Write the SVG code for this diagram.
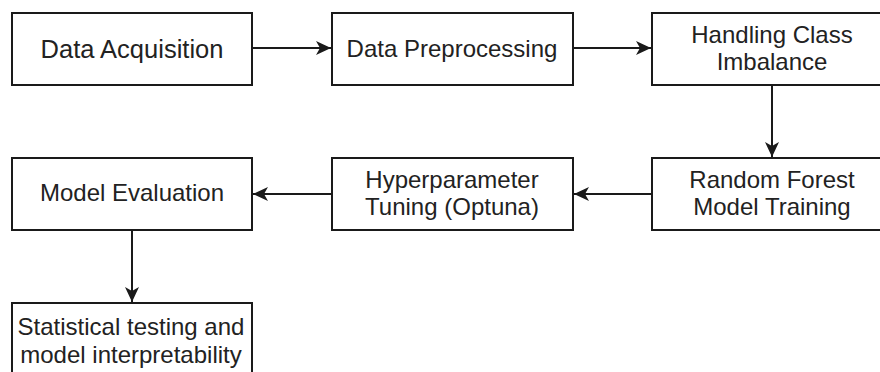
<svg xmlns="http://www.w3.org/2000/svg" width="880" height="372" viewBox="0 0 880 372">
  <style>
    .box { fill: #ffffff; stroke: #1a1a1a; stroke-width: 2; }
    .lbl { font-family: "Liberation Sans", Arial, sans-serif; font-size: 24px; fill: #222222; text-anchor: middle; }
    .big { font-size: 25.5px; }
    .edge { fill: none; stroke: #1a1a1a; stroke-width: 2; marker-end: url(#arrow); }
  </style>
  <defs>
    <marker id="arrow" markerUnits="userSpaceOnUse" markerWidth="17" markerHeight="16" viewBox="0 0 17 16" refX="16" refY="8" orient="auto">
      <path d="M1,1 L16,8 L1,15 L5,8 Z" fill="#1a1a1a"/>
    </marker>
  </defs>
  <rect width="880" height="372" fill="#ffffff"/>

  <g id="edges">
    <path class="edge" d="M252,48 L331,48"/>
    <path class="edge" d="M573,48 L651,48"/>
    <path class="edge" d="M772,85 L772,157"/>
    <path class="edge" d="M652,194 L574,194"/>
    <path class="edge" d="M332,194 L253,194"/>
    <path class="edge" d="M132,230 L132,302"/>
  </g>

  <g id="data-acquisition">
    <rect class="box" x="12" y="13" width="240" height="72"/>
    <text class="lbl big" x="132" y="58">Data Acquisition</text>
  </g>
  <g id="data-preprocessing">
    <rect class="box" x="332" y="13" width="241" height="72"/>
    <text class="lbl" x="452" y="57">Data Preprocessing</text>
  </g>
  <g id="class-imbalance">
    <rect class="box" x="652" y="13" width="240" height="72"/>
    <text class="lbl" x="772" y="42.5">Handling Class</text>
    <text class="lbl" x="772" y="70">Imbalance</text>
  </g>
  <g id="random-forest">
    <rect class="box" x="652" y="158" width="240" height="72"/>
    <text class="lbl" x="772" y="188">Random Forest</text>
    <text class="lbl" x="772" y="215">Model Training</text>
  </g>
  <g id="hyperparameter-tuning">
    <rect class="box" x="332" y="158" width="241" height="72"/>
    <text class="lbl" x="452" y="188">Hyperparameter</text>
    <text class="lbl" x="452" y="215">Tuning (Optuna)</text>
  </g>
  <g id="model-evaluation">
    <rect class="box" x="12" y="158" width="240" height="72"/>
    <text class="lbl" x="132" y="201">Model Evaluation</text>
  </g>
  <g id="statistical-testing">
    <rect class="box" x="12" y="303" width="240" height="72"/>
    <text class="lbl" x="131" y="335">Statistical testing and</text>
    <text class="lbl" x="131" y="363">model interpretability</text>
  </g>
</svg>
